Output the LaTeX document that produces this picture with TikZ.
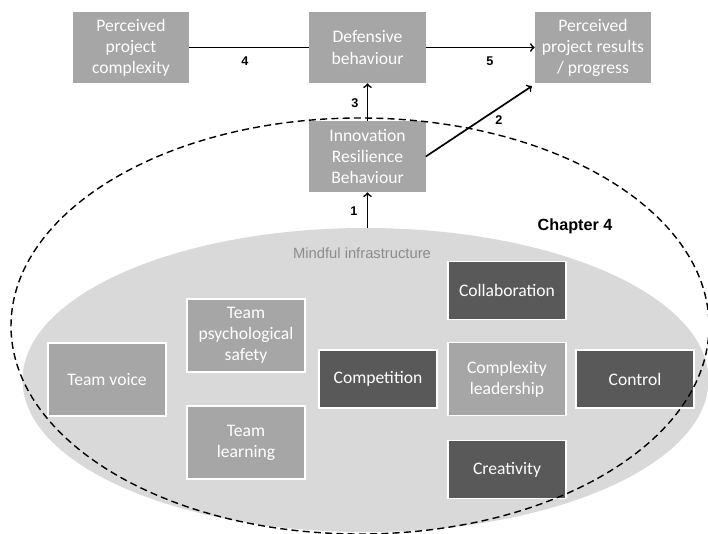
\documentclass[tikz,border=0pt]{standalone}
\usepackage{fontspec}
\setmainfont{Carlito}
\newfontfamily\arialfont{Liberation Sans}
\definecolor{boxgray}{HTML}{A6A6A6}
\definecolor{darkgray}{HTML}{595959}
\definecolor{infragray}{HTML}{D9D9D9}
\definecolor{labelgray}{HTML}{8C8C8C}
\tikzset{
  topbox/.style={fill=boxgray, text=white, align=center, minimum width=2.9cm, minimum height=1.775cm, inner sep=0pt, font=\fontsize{12.5}{15}\selectfont},
  lightbox/.style={draw=white, line width=1pt, fill=boxgray, text=white, align=center, minimum width=2.95cm, minimum height=1.825cm, inner sep=0pt, font=\fontsize{12.5}{15}\selectfont},
  darkbox/.style={lightbox, fill=darkgray, minimum height=1.45cm},
  numlabel/.style={font=\arialfont\bfseries\fontsize{9}{10}\selectfont},
  link/.style={line width=1.2pt}
}
\begin{document}
\begin{tikzpicture}[x=0.025cm, y=-0.025cm]
	\useasboundingbox (0,0) rectangle (708,533);
	% mindful infrastructure
	\fill[infragray] (365.5,380) ellipse [x radius=343, y radius=152];
	\node[text=labelgray, font=\arialfont\fontsize{10.5}{12}\selectfont] (infra) at (362,253) {Mindful infrastructure};
	\node[lightbox] (voice) at (107,379.5) {Team voice};
	\node[lightbox] (psych) at (246,335.5) {Team\\psychological\\safety};
	\node[lightbox] (learn) at (246,442.5) {Team\\learning};
	\node[darkbox] (comp) at (378,379) {Competition};
	\node[darkbox] (collab) at (507,290.5) {Collaboration};
	\node[lightbox] (cxlead) at (507,379) {Complexity\\leadership};
	\node[darkbox] (control) at (635,379) {Control};
	\node[darkbox] (creat) at (507,469.5) {Creativity};
	% model
	\node[topbox] (cplx) at (131,47.5) {Perceived\\project\\complexity};
	\node[topbox] (def) at (367.5,47.5) {Defensive\\behaviour};
	\node[topbox] (res) at (593,47.5) {Perceived\\project results\\/ progress};
	\node[topbox] (irb) at (367.5,156.5) {Innovation\\Resilience\\Behaviour};
	\coordinate (infratop) at (367.5,228);
	\draw[link] (cplx) -- (def);
	\draw[link, ->] (def) -- (res);
	\draw[link, ->] (irb) -- (def);
	\draw[link, ->] (irb.east) -- ([xshift=-2pt, yshift=-2pt]res.south west);
	\draw[link, ->] (infratop) -- (irb);
	\node[numlabel] (n4) at (245,61) {4};
	\node[numlabel] (n5) at (490,61) {5};
	\node[numlabel] (n3) at (355,103) {3};
	\node[numlabel] (n2) at (499,120) {2};
	\node[numlabel] (n1) at (354,211) {1};
	% chapter boundary
	\draw[line width=1pt, dash pattern=on 5pt off 3pt] (360,326) ellipse [x radius=349, y radius=208];
	\node[font=\arialfont\bfseries\fontsize{11.5}{13}\selectfont] (chap) at (575,226) {Chapter 4};
\end{tikzpicture}
\end{document}
